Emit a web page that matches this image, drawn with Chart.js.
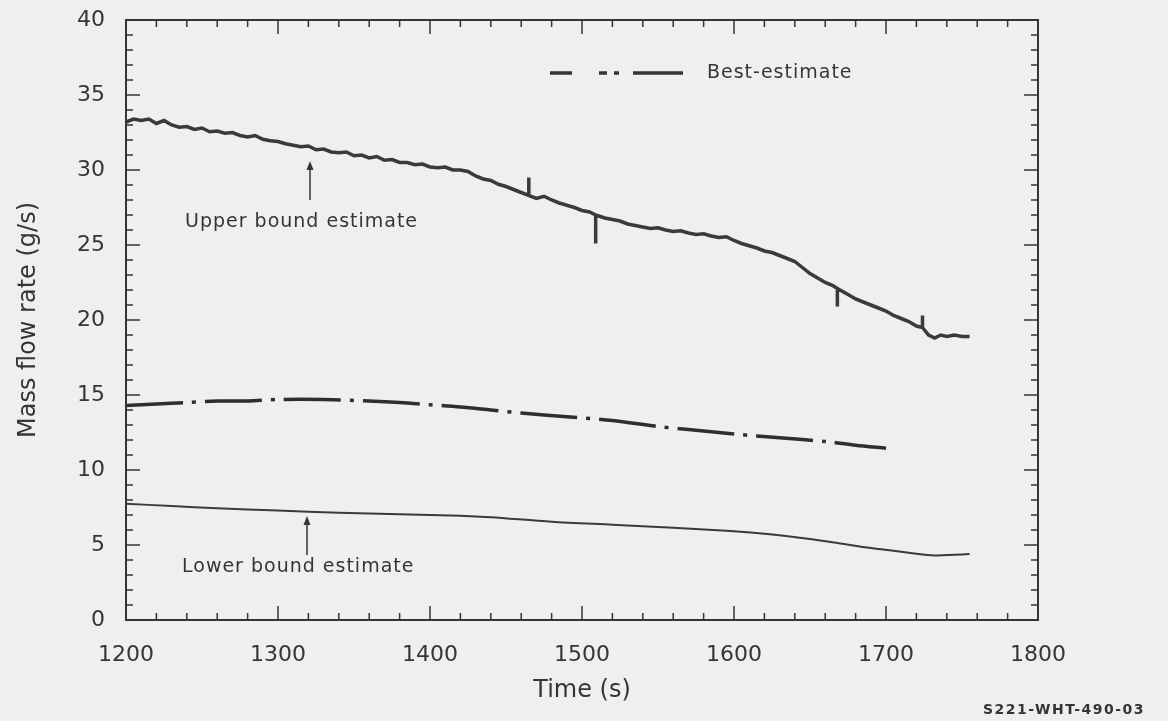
<!DOCTYPE html>
<html>
<head>
<meta charset="utf-8">
<script src="https://cdn.jsdelivr.net/npm/chart.js@4.4.1/dist/chart.umd.min.js"></script>
<style>
  html, body { margin: 0; padding: 0; background: #efefed; }
  #wrap { width: 1168px; height: 721px; }
</style>
</head>
<body>
<div id="wrap"><canvas id="flowChart" width="1168" height="721"></canvas></div>
<script>
// upper bound estimate (noisy trace, repeated times are the small spikes)
const upperTime = [1200, 1205, 1210, 1215, 1220, 1225, 1230, 1235, 1240, 1245, 1250, 1255, 1260, 1265, 1270, 1275,
  1280, 1285, 1290, 1295, 1300, 1305, 1310, 1315, 1320, 1325, 1330, 1335, 1340, 1345, 1350, 1355, 1360, 1365,
  1370, 1375, 1380, 1385, 1390, 1395, 1400, 1405, 1410, 1415, 1420, 1425, 1430, 1435, 1440, 1445, 1450, 1455,
  1460, 1465, 1465, 1465, 1470, 1475, 1480, 1485, 1490, 1495, 1500, 1505, 1509, 1509, 1509, 1515, 1520, 1525,
  1530, 1535, 1540, 1545, 1550, 1555, 1560, 1565, 1570, 1575, 1580, 1585, 1590, 1595, 1600, 1605, 1610, 1615,
  1620, 1625, 1630, 1635, 1640, 1645, 1650, 1655, 1660, 1665, 1668, 1668, 1668, 1675, 1680, 1685, 1690, 1695,
  1700, 1705, 1710, 1715, 1720, 1724, 1724, 1724, 1728, 1732, 1736, 1740, 1745, 1750, 1755];
const upperFlow = [33.2, 33.4, 33.3, 33.4, 33.1, 33.3, 33.0, 32.85, 32.9, 32.7, 32.8, 32.55, 32.6, 32.45, 32.5, 32.3,
  32.2, 32.3, 32.05, 31.95, 31.9, 31.75, 31.65, 31.55, 31.6, 31.35, 31.4, 31.2, 31.15, 31.2, 30.95, 31.0, 30.8, 30.9,
  30.65, 30.7, 30.5, 30.5, 30.35, 30.4, 30.2, 30.15, 30.2, 30.0, 30.0, 29.9, 29.6, 29.4, 29.3, 29.05, 28.9, 28.7,
  28.5, 28.3, 29.5, 28.3, 28.1, 28.25, 28.0, 27.8, 27.65, 27.5, 27.3, 27.2, 27.0, 25.1, 27.0, 26.8, 26.7, 26.6,
  26.4, 26.3, 26.2, 26.1, 26.15, 26.0, 25.9, 25.95, 25.8, 25.7, 25.75, 25.6, 25.5, 25.55, 25.3, 25.1, 24.95, 24.8,
  24.6, 24.5, 24.3, 24.1, 23.9, 23.5, 23.1, 22.8, 22.5, 22.3, 22.1, 20.9, 22.1, 21.7, 21.4, 21.2, 21.0, 20.8,
  20.6, 20.3, 20.1, 19.9, 19.6, 19.5, 20.3, 19.5, 19.0, 18.8, 19.0, 18.9, 19.0, 18.9, 18.9];

// best-estimate
const bestTime = [1200, 1220, 1240, 1260, 1280, 1300, 1330, 1360, 1380, 1400, 1420, 1440, 1460, 1490, 1520,
  1550, 1570, 1600, 1630, 1660, 1680, 1700];
const bestFlow = [14.3, 14.4, 14.5, 14.6, 14.6, 14.7, 14.7, 14.6, 14.5, 14.35, 14.2, 14.0, 13.8, 13.55, 13.3,
  12.9, 12.7, 12.4, 12.15, 11.9, 11.65, 11.45];

// lower bound estimate
const lowerTime = [1200, 1230, 1260, 1300, 1340, 1380, 1420, 1440, 1480, 1520, 1560, 1595, 1620, 1650, 1670,
  1690, 1710, 1732, 1745, 1755];
const lowerFlow = [7.75, 7.6, 7.45, 7.3, 7.15, 7.05, 6.95, 6.85, 6.55, 6.35, 6.15, 5.95, 5.75, 5.4, 5.1,
  4.8, 4.55, 4.3, 4.35, 4.4];

const xMin = 1200, xMax = 1800, xStep = 100, xMinor = 20;
const yMin = 0, yMax = 40, yStep = 5, yMinor = 1;

const ink = '#353535';
const fontFamily = '"DejaVu Sans", sans-serif';

function toPoints(xs, ys) {
  return xs.map((x, i) => ({ x: x, y: ys[i] }));
}

// frame, inward ticks on all four sides, legend sample and notes
const paperPlugin = {
  id: 'paper',
  afterDatasetsDraw(chart) {
    const ctx = chart.ctx;
    const area = chart.chartArea;
    const xs = chart.scales.x;
    const ys = chart.scales.y;
    ctx.save();
    ctx.strokeStyle = ink;
    ctx.lineWidth = 2;
    ctx.strokeRect(area.left, area.top, area.right - area.left, area.bottom - area.top);

    ctx.lineWidth = 1.5;
    ctx.beginPath();
    for (let v = xMin; v <= xMax; v += xMinor) {
      const px = xs.getPixelForValue(v);
      const len = (v - xMin) % xStep === 0 ? 14 : 7;
      ctx.moveTo(px, area.bottom); ctx.lineTo(px, area.bottom - len);
      ctx.moveTo(px, area.top); ctx.lineTo(px, area.top + len);
    }
    for (let v = yMin; v <= yMax; v += yMinor) {
      const py = ys.getPixelForValue(v);
      const len = (v - yMin) % yStep === 0 ? 14 : 7;
      ctx.moveTo(area.left, py); ctx.lineTo(area.left + len, py);
      ctx.moveTo(area.right, py); ctx.lineTo(area.right - len, py);
    }
    ctx.stroke();

    // legend sample for best-estimate
    ctx.lineWidth = 3.5;
    ctx.beginPath();
    ctx.moveTo(550, 73); ctx.lineTo(572, 73);
    ctx.moveTo(599, 73); ctx.lineTo(607, 73);
    ctx.moveTo(614, 73); ctx.lineTo(619, 73);
    ctx.moveTo(633, 73); ctx.lineTo(683, 73);
    ctx.stroke();

    ctx.fillStyle = ink;
    ctx.textBaseline = 'middle';
    ctx.textAlign = 'left';
    ctx.font = '19px ' + fontFamily;
    ctx.letterSpacing = '1px';
    ctx.fillText('Best-estimate', 707, 73);
    ctx.fillText('Upper bound estimate', 185, 222);
    ctx.fillText('Lower bound estimate', 182, 567);

    // arrows
    const arrows = [[310, 200, 161], [307, 555, 516]];
    ctx.lineWidth = 1.5;
    arrows.forEach(([ax, y0, y1]) => {
      ctx.beginPath();
      ctx.moveTo(ax, y0); ctx.lineTo(ax, y1 + 6);
      ctx.stroke();
      ctx.beginPath();
      ctx.moveTo(ax, y1); ctx.lineTo(ax - 3.5, y1 + 9); ctx.lineTo(ax + 3.5, y1 + 9);
      ctx.closePath();
      ctx.fill();
    });

    ctx.font = 'bold 14px ' + fontFamily;
    ctx.letterSpacing = '1.5px';
    ctx.fillText('S221-WHT-490-03', 983, 710);
    ctx.restore();
  }
};

new Chart(document.getElementById('flowChart'), {
  type: 'line',
  data: {
    datasets: [
      {
        label: 'Upper bound estimate',
        data: toPoints(upperTime, upperFlow),
        borderColor: '#3a3a3a',
        borderWidth: 3.5,
        pointRadius: 0,
        tension: 0
      },
      {
        label: 'Best-estimate',
        data: toPoints(bestTime, bestFlow),
        borderColor: '#2e2e2e',
        borderWidth: 3.5,
        borderDash: [57, 9, 4, 9],
        pointRadius: 0,
        tension: 0.3
      },
      {
        label: 'Lower bound estimate',
        data: toPoints(lowerTime, lowerFlow),
        borderColor: '#3a3a3a',
        borderWidth: 2,
        pointRadius: 0,
        tension: 0.3
      }
    ]
  },
  options: {
    responsive: false,
    animation: false,
    layout: { padding: { left: 0, right: 130, top: 20, bottom: 0 } },
    plugins: {
      legend: { display: false },
      tooltip: { enabled: false }
    },
    scales: {
      x: {
        type: 'linear',
        min: xMin,
        max: xMax,
        grid: { display: false, drawTicks: false },
        border: { display: false },
        ticks: {
          stepSize: xStep,
          padding: 22,
          color: ink,
          font: { family: fontFamily, size: 22 },
          maxRotation: 0,
          callback: (v) => String(v)
        },
        title: {
          display: true,
          text: 'Time (s)',
          color: ink,
          font: { family: fontFamily, size: 24 },
          padding: { top: 0, bottom: 16 }
        },
        afterFit(scale) {
          scale.height = 101;
          scale.paddingLeft = 0;
          scale.paddingRight = 0;
        }
      },
      y: {
        min: yMin,
        max: yMax,
        grid: { display: false, drawTicks: false },
        border: { display: false },
        ticks: {
          stepSize: yStep,
          padding: 21,
          color: ink,
          font: { family: fontFamily, size: 22 }
        },
        title: {
          display: true,
          text: 'Mass flow rate (g/s)',
          color: ink,
          font: { family: fontFamily, size: 24 },
          padding: { top: 14, bottom: 0 }
        },
        afterFit(scale) {
          scale.width = 126;
          scale.paddingTop = 0;
          scale.paddingBottom = 0;
        }
      }
    }
  },
  plugins: [paperPlugin]
});
</script>
</body>
</html>
